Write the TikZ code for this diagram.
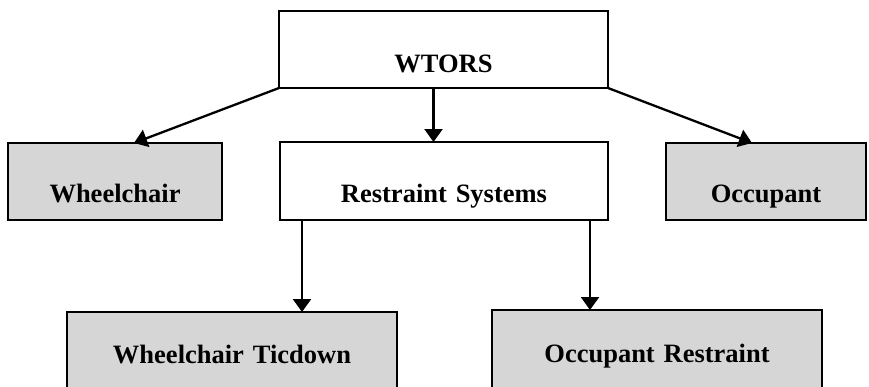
\documentclass[tikz,border=0pt]{standalone}
\usepackage{fontspec}
\setmainfont{Liberation Serif}
\usetikzlibrary{arrows.meta}
\begin{document}
\begin{tikzpicture}[x=1pt,y=-1pt,
  box/.style={draw=black,line width=2.5pt,inner sep=0pt,outer sep=0pt,anchor=north west,align=center,
    font=\fontsize{26.5}{30}\selectfont\bfseries},
  shade/.style={box,fill=black!16},
  plain/.style={box,fill=white},
  conn/.style={line width=2.3pt,-{Triangle[length=13pt,width=18pt]}}]
\useasboundingbox (0,0) rectangle (869,386);
\clip (0,0) rectangle (869,386);
\node[plain,text width=329pt,text height=61pt,text depth=16pt] (wtors) at (279,11) {WTORS};
\node[shade,text width=214pt,text height=59pt,text depth=18pt] (wheel) at (8,143) {Wheelchair};
\node[plain,text width=328pt,text height=60pt,text depth=18pt] (restr) at (280,142) {Restraint Systems};
\node[shade,text width=200pt,text height=59pt,text depth=18pt] (occ) at (666,143) {Occupant};
\node[shade,text width=330pt,text height=51pt,text depth=40pt] (tied) at (67,312) {Wheelchair Ticdown};
\node[shade,text width=330pt,text height=52pt,text depth=40pt] (orest) at (492,310) {Occupant Restraint};
\draw[conn] (wtors.south west) -- ([xshift=19pt]wheel.north);
\draw[conn] ([xshift=-10pt]wtors.south) -- ([xshift=-10pt]wtors.south |- restr.north);
\draw[conn] (wtors.south east) -- ([xshift=-14pt]occ.north);
\draw[conn] ([xshift=70pt]tied.north |- restr.south) -- ([xshift=70pt]tied.north);
\draw[conn] ([xshift=-67pt]orest.north |- restr.south) -- ([xshift=-67pt]orest.north);
\end{tikzpicture}
\end{document}
